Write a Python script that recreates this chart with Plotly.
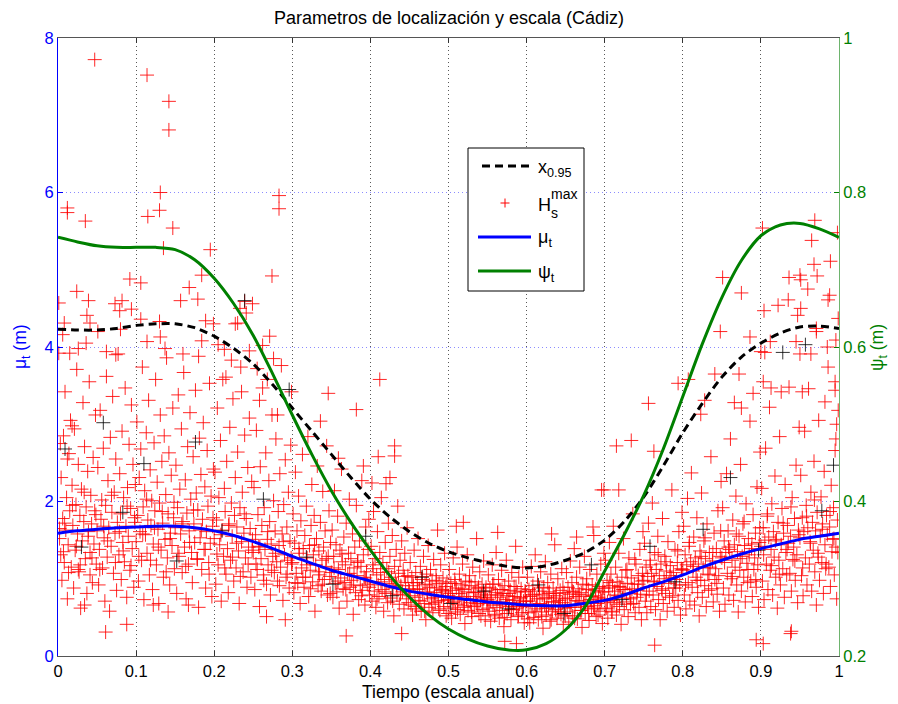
import plotly.graph_objects as go

# ---------------- data ----------------
t_curve = [0.0, 0.025, 0.05, 0.075, 0.1, 0.125, 0.15, 0.175, 0.2, 0.225, 0.25, 0.275, 0.3, 0.325,
           0.35, 0.375, 0.4, 0.425, 0.45, 0.475, 0.5, 0.525, 0.55, 0.575, 0.6, 0.625, 0.65, 0.675,
           0.7, 0.725, 0.75, 0.775, 0.8, 0.825, 0.85, 0.875, 0.9, 0.925, 0.95, 0.975, 1.0]
x095 = [4.23, 4.22, 4.22, 4.24, 4.28, 4.30, 4.30, 4.25, 4.14, 3.98, 3.78, 3.51, 3.21, 2.91,
        2.61, 2.31, 2.03, 1.80, 1.61, 1.46, 1.35, 1.27, 1.21, 1.16, 1.14, 1.17, 1.24, 1.34,
        1.50, 1.74, 2.06, 2.46, 2.89, 3.27, 3.61, 3.87, 4.05, 4.18, 4.26, 4.27, 4.24]
mu_t = [1.59, 1.62, 1.64, 1.66, 1.67, 1.68, 1.68, 1.66, 1.62, 1.56, 1.48, 1.39, 1.29, 1.20,
        1.11, 1.04, 0.97, 0.90, 0.84, 0.80, 0.76, 0.73, 0.70, 0.68, 0.66, 0.65, 0.65, 0.68,
        0.72, 0.79, 0.88, 0.96, 1.05, 1.15, 1.24, 1.32, 1.39, 1.45, 1.51, 1.55, 1.59]
psi_t = [0.742, 0.736, 0.731, 0.729, 0.729, 0.729, 0.726, 0.713, 0.689, 0.656, 0.615, 0.565, 0.512, 0.461,
         0.414, 0.373, 0.337, 0.304, 0.276, 0.253, 0.235, 0.222, 0.213, 0.208, 0.208, 0.216, 0.234, 0.264,
         0.310, 0.357, 0.408, 0.468, 0.536, 0.604, 0.664, 0.712, 0.744, 0.758, 0.760, 0.753, 0.742]

hs_ene_mar = [
[0.002,1.52],[0.004,2.31],[0.005,0.98],[0.006,1.78],[0.007,2.85],[0.008,1.21],[0.009,3.42],[0.010,1.63],[0.011,2.05],[0.012,0.74],
[0.013,1.44],[0.014,2.62],[0.015,1.88],[0.016,3.05],[0.017,1.15],[0.018,2.21],[0.019,1.69],[0.020,0.88],[0.021,2.94],[0.022,1.37],
[0.023,1.96],[0.024,3.71],[0.025,1.58],[0.026,2.48],[0.027,1.09],[0.028,1.82],[0.029,0.62],[0.030,2.16],[0.031,1.49],[0.032,3.28],
[0.033,1.74],[0.034,2.71],[0.035,1.26],[0.036,1.93],[0.037,0.81],[0.038,2.39],[0.039,1.61],[0.040,3.55],[0.041,1.34],[0.042,2.08],
[0.043,1.71],[0.044,0.95],[0.045,2.57],[0.046,1.45],[0.047,1.88],[0.048,3.12],[0.049,1.19],[0.003,2.75],[0.012,2.55],[0.018,2.98],
[0.026,1.12],[0.034,0.66],[0.041,1.05],[0.002,1.65],[0.007,1.35],
[0.050,1.62],[0.051,2.44],[0.052,0.92],[0.053,1.38],[0.054,3.18],[0.055,1.77],[0.056,2.02],[0.057,1.14],[0.058,2.69],[0.059,1.53],
[0.060,0.71],[0.061,1.95],[0.062,3.62],[0.063,1.28],[0.064,2.27],[0.065,1.66],[0.066,0.58],[0.067,2.83],[0.068,1.42],[0.069,1.86],
[0.070,3.36],[0.071,1.07],[0.072,2.12],[0.073,1.59],[0.074,2.55],[0.075,0.85],[0.076,1.73],[0.077,3.91],[0.078,1.31],[0.079,2.36],
[0.080,1.84],[0.081,0.99],[0.082,2.91],[0.083,1.47],[0.084,2.05],[0.085,1.22],[0.086,3.47],[0.087,1.68],[0.088,0.76],[0.089,2.18],
[0.090,1.55],[0.091,2.74],[0.092,1.11],[0.093,1.91],[0.094,3.25],[0.095,1.39],[0.096,2.48],[0.097,0.89],[0.098,1.79],[0.099,2.22],
[0.100,1.48],[0.101,3.03],[0.102,1.82],[0.103,0.97],[0.104,2.31],[0.105,1.61],[0.106,2.68],[0.107,1.24],[0.108,3.74],[0.109,1.93],
[0.110,0.73],[0.111,2.14],[0.112,1.57],[0.113,2.89],[0.114,1.33],[0.115,1.76],[0.116,3.31],[0.117,1.05],[0.118,2.41],[0.119,1.69],
[0.120,2.01],[0.121,0.86],[0.122,1.45],[0.123,2.76],[0.124,1.88],[0.125,3.58],[0.126,1.18],[0.127,2.25],[0.128,1.64],[0.129,0.68],
[0.130,1.98],[0.131,3.12],[0.132,1.37],[0.133,2.52],[0.134,1.72],[0.135,1.02],[0.136,2.85],[0.137,1.51],[0.138,2.09],[0.139,3.86],
[0.140,1.27],[0.141,1.84],[0.142,2.63],[0.143,0.92],[0.144,1.59],[0.145,2.34],[0.146,1.43],[0.147,3.21],[0.148,1.79],[0.149,1.13],
[0.150,1.66],[0.151,2.47],[0.152,0.81],[0.153,1.92],[0.154,3.38],[0.155,1.29],[0.156,2.16],[0.157,1.58],[0.158,2.94],[0.159,1.08],
[0.160,1.74],[0.161,3.67],[0.162,1.41],[0.163,2.28],[0.164,0.74],[0.165,1.85],[0.166,2.71],[0.167,1.19],[0.168,1.62],[0.169,3.15],
[0.170,2.03],[0.171,1.34],[0.172,0.95],[0.173,2.58],[0.174,1.71],[0.175,1.47],[0.176,3.44],[0.177,2.11],[0.178,1.26],[0.179,1.89],
[0.180,0.63],[0.181,2.82],[0.182,1.53],[0.183,2.35],[0.184,1.12],[0.185,1.77],[0.186,3.02],[0.187,1.38],[0.188,2.19],[0.189,0.88],
[0.190,1.61],[0.191,2.66],[0.192,1.94],[0.193,1.21],[0.194,3.53],[0.195,1.46],[0.196,2.07],[0.197,0.77],[0.198,1.68],[0.199,2.42],
[0.200,1.52],[0.201,2.38],[0.202,0.93],[0.203,1.76],[0.204,3.21],[0.205,1.18],[0.206,2.05],[0.207,1.44],[0.208,2.79],[0.209,0.71],
[0.210,1.63],[0.211,3.58],[0.212,1.29],[0.213,2.17],[0.214,1.87],[0.215,1.06],[0.216,2.52],[0.217,1.39],[0.218,0.82],[0.219,1.71],
[0.220,2.96],[0.221,1.24],[0.222,1.98],[0.223,1.55],[0.224,3.33],[0.225,0.97],[0.226,1.82],[0.227,2.31],[0.228,1.14],[0.229,1.67],
[0.230,2.64],[0.231,1.36],[0.232,0.68],[0.233,1.92],[0.234,3.74],[0.235,1.48],[0.236,2.12],[0.237,1.09],[0.238,1.59],[0.239,2.86],
[0.240,1.27],[0.241,1.78],[0.242,0.89],[0.243,2.44],[0.244,1.41],[0.245,3.08],[0.246,1.65],[0.247,1.02],[0.248,2.26],[0.249,1.51],
]

hs_abr_jun = [
[0.250,1.34],[0.251,2.18],[0.252,0.86],[0.253,1.57],[0.254,2.92],[0.255,1.12],[0.256,1.83],[0.257,1.41],[0.258,0.64],[0.259,2.45],
[0.260,1.26],[0.261,1.69],[0.262,3.47],[0.263,1.05],[0.264,1.92],[0.265,1.38],[0.266,2.63],[0.267,0.93],[0.268,1.51],[0.269,1.18],
[0.270,2.27],[0.271,1.74],[0.272,0.79],[0.273,1.45],[0.274,3.12],[0.275,1.29],[0.276,2.01],[0.277,1.08],[0.278,1.62],[0.279,2.81],
[0.280,1.22],[0.281,0.97],[0.282,1.87],[0.283,1.43],[0.284,2.36],[0.285,1.15],[0.286,3.76],[0.287,1.58],[0.288,0.72],[0.289,1.96],
[0.290,1.31],[0.291,2.54],[0.292,1.02],[0.293,1.67],[0.294,1.24],[0.295,2.12],[0.296,0.88],[0.297,1.49],[0.298,2.73],[0.299,1.19],
[0.300,1.21],[0.301,1.84],[0.302,0.82],[0.303,1.46],[0.304,2.38],[0.305,1.07],[0.306,1.62],[0.307,0.94],[0.308,2.07],[0.309,1.33],
[0.310,0.68],[0.311,1.75],[0.312,1.14],[0.313,2.61],[0.314,1.39],[0.315,0.89],[0.316,1.56],[0.317,1.02],[0.318,1.94],[0.319,1.27],
[0.320,2.84],[0.321,0.77],[0.322,1.43],[0.323,1.11],[0.324,1.69],[0.325,2.22],[0.326,0.96],[0.327,1.31],[0.328,1.82],[0.329,0.58],
[0.330,1.18],[0.331,1.52],[0.332,2.46],[0.333,0.91],[0.334,1.36],[0.335,1.05],[0.336,1.73],[0.337,0.84],[0.338,1.24],[0.339,2.13],
[0.340,1.41],[0.341,0.99],[0.342,1.62],[0.343,1.16],[0.344,2.72],[0.345,0.79],[0.346,1.29],[0.347,1.88],[0.348,1.03],[0.349,1.47],
[0.350,1.08],[0.351,1.63],[0.352,0.76],[0.353,1.29],[0.354,2.14],[0.355,0.94],[0.356,1.44],[0.357,0.83],[0.358,1.81],[0.359,1.12],
[0.360,0.62],[0.361,1.37],[0.362,1.01],[0.363,2.42],[0.364,1.22],[0.365,0.87],[0.366,1.54],[0.367,0.95],[0.368,1.18],[0.369,1.72],
[0.370,0.71],[0.371,1.06],[0.372,1.33],[0.373,2.03],[0.374,0.89],[0.375,1.26],[0.376,0.98],[0.377,1.58],[0.378,0.54],[0.379,1.14],
[0.380,1.41],[0.381,0.82],[0.382,1.95],[0.383,1.04],[0.384,1.23],[0.385,0.73],[0.386,1.49],[0.387,0.91],[0.388,1.16],[0.389,2.27],
[0.390,0.85],[0.391,1.31],[0.392,1.02],[0.393,0.66],[0.394,1.67],[0.395,1.09],[0.396,0.93],[0.397,1.38],[0.398,1.77],[0.399,0.79],
[0.400,0.96],[0.401,1.42],[0.402,0.71],[0.403,1.18],[0.404,1.87],[0.405,0.84],[0.406,1.26],[0.407,0.63],[0.408,1.05],[0.409,1.61],
[0.410,0.92],[0.411,0.77],[0.412,1.34],[0.413,1.08],[0.414,2.05],[0.415,0.86],[0.416,1.21],[0.417,0.58],[0.418,0.99],[0.419,1.47],
[0.420,0.81],[0.421,1.13],[0.422,0.69],[0.423,1.72],[0.424,0.94],[0.425,1.29],[0.426,0.75],[0.427,1.02],[0.428,1.56],[0.429,0.88],
[0.430,0.52],[0.431,1.16],[0.432,0.97],[0.433,1.38],[0.434,0.79],[0.435,1.94],[0.436,1.07],[0.437,0.67],[0.438,1.24],[0.439,0.91],
[0.440,1.49],[0.441,0.83],[0.442,1.11],[0.443,0.61],[0.444,1.33],[0.445,0.95],[0.446,0.74],[0.447,1.66],[0.448,1.04],[0.449,0.87],
[0.450,0.84],[0.451,1.21],[0.452,0.66],[0.453,1.02],[0.454,0.53],[0.455,0.91],[0.456,1.37],[0.457,0.76],[0.458,1.08],[0.459,0.61],
[0.460,0.95],[0.461,1.52],[0.462,0.72],[0.463,0.87],[0.464,1.16],[0.465,0.58],[0.466,0.99],[0.467,0.81],[0.468,1.29],[0.469,0.68],
[0.470,0.93],[0.471,0.47],[0.472,1.06],[0.473,0.79],[0.474,1.43],[0.475,0.63],[0.476,0.89],[0.477,1.12],[0.478,0.74],[0.479,0.97],
[0.480,0.56],[0.481,1.25],[0.482,0.82],[0.483,0.69],[0.484,1.04],[0.485,0.88],[0.486,1.63],[0.487,0.71],[0.488,0.94],[0.489,0.59],
[0.490,1.18],[0.491,0.77],[0.492,0.86],[0.493,1.01],[0.494,0.64],[0.495,1.33],[0.496,0.83],[0.497,0.52],[0.498,0.96],[0.499,0.73],
]

hs_jul_sep = [
[0.500,0.78],[0.501,1.12],[0.502,0.62],[0.503,0.94],[0.504,0.49],[0.505,0.85],[0.506,1.27],[0.507,0.71],[0.508,0.99],[0.509,0.57],
[0.510,0.88],[0.511,1.41],[0.512,0.67],[0.513,0.81],[0.514,1.06],[0.515,0.54],[0.516,0.92],[0.517,0.75],[0.518,1.19],[0.519,0.63],
[0.520,0.86],[0.521,0.42],[0.522,0.97],[0.523,0.73],[0.524,1.31],[0.525,0.59],[0.526,0.83],[0.527,1.04],[0.528,0.69],[0.529,0.91],
[0.530,0.51],[0.531,1.15],[0.532,0.77],[0.533,0.64],[0.534,0.96],[0.535,0.82],[0.536,1.52],[0.537,0.66],[0.538,0.87],[0.539,0.55],
[0.540,1.09],[0.541,0.72],[0.542,0.79],[0.543,0.93],[0.544,0.60],[0.545,1.23],[0.546,0.76],[0.547,0.47],[0.548,0.89],[0.549,0.68],
[0.550,0.73],[0.551,1.05],[0.552,0.58],[0.553,0.88],[0.554,0.45],[0.555,0.79],[0.556,1.18],[0.557,0.66],[0.558,0.93],[0.559,0.52],
[0.560,0.82],[0.561,1.34],[0.562,0.63],[0.563,0.76],[0.564,0.99],[0.565,0.49],[0.566,0.86],[0.567,0.70],[0.568,1.11],[0.569,0.59],
[0.570,0.81],[0.571,0.38],[0.572,0.91],[0.573,0.68],[0.574,1.24],[0.575,0.55],[0.576,0.78],[0.577,0.97],[0.578,0.64],[0.579,0.85],
[0.580,0.47],[0.581,1.08],[0.582,0.72],[0.583,0.60],[0.584,0.90],[0.585,0.77],[0.586,1.42],[0.587,0.62],[0.588,0.83],[0.589,0.51],
[0.590,1.02],[0.591,0.67],[0.592,0.74],[0.593,0.87],[0.594,0.56],[0.595,1.15],[0.596,0.71],[0.597,0.43],[0.598,0.84],[0.599,0.64],
[0.600,0.71],[0.601,1.02],[0.602,0.56],[0.603,0.86],[0.604,0.43],[0.605,0.77],[0.606,1.16],[0.607,0.64],[0.608,0.91],[0.609,0.50],
[0.610,0.80],[0.611,1.31],[0.612,0.61],[0.613,0.74],[0.614,0.97],[0.615,0.47],[0.616,0.84],[0.617,0.68],[0.618,1.09],[0.619,0.57],
[0.620,0.79],[0.621,0.36],[0.622,0.89],[0.623,0.66],[0.624,1.22],[0.625,0.53],[0.626,0.76],[0.627,0.95],[0.628,0.62],[0.629,0.83],
[0.630,0.45],[0.631,1.06],[0.632,0.70],[0.633,0.58],[0.634,0.88],[0.635,0.75],[0.636,1.44],[0.637,0.60],[0.638,0.81],[0.639,0.49],
[0.640,1.00],[0.641,0.65],[0.642,0.72],[0.643,0.85],[0.644,0.54],[0.645,1.13],[0.646,0.69],[0.647,0.41],[0.648,0.82],[0.649,0.62],
[0.650,0.74],[0.651,1.08],[0.652,0.57],[0.653,0.89],[0.654,0.44],[0.655,0.80],[0.656,1.23],[0.657,0.66],[0.658,0.95],[0.659,0.52],
[0.660,0.83],[0.661,1.39],[0.662,0.63],[0.663,0.77],[0.664,1.02],[0.665,0.48],[0.666,0.87],[0.667,0.71],[0.668,1.15],[0.669,0.59],
[0.670,0.82],[0.671,0.37],[0.672,0.93],[0.673,0.69],[0.674,1.29],[0.675,0.55],[0.676,0.79],[0.677,1.00],[0.678,0.64],[0.679,0.86],
[0.680,0.46],[0.681,1.12],[0.682,0.73],[0.683,0.61],[0.684,0.92],[0.685,0.78],[0.686,1.56],[0.687,0.62],[0.688,0.85],[0.689,0.51],
[0.690,1.06],[0.691,0.68],[0.692,0.76],[0.693,0.90],[0.694,0.58],[0.695,1.19],[0.696,0.72],[0.697,0.42],[0.698,0.88],[0.699,1.33],
[0.700,0.83],[0.701,1.24],[0.702,0.62],[0.703,0.98],[0.704,0.49],[0.705,0.88],[0.706,1.47],[0.707,0.72],[0.708,1.06],[0.709,0.57],
[0.710,0.91],[0.711,1.68],[0.712,0.69],[0.713,0.84],[0.714,1.15],[0.715,0.53],[0.716,0.96],[0.717,0.78],[0.718,1.33],[0.719,0.64],
[0.720,0.89],[0.721,0.41],[0.722,1.02],[0.723,0.75],[0.724,1.52],[0.725,0.60],[0.726,0.86],[0.727,1.11],[0.728,0.70],[0.729,0.94],
[0.730,0.51],[0.731,1.27],[0.732,0.81],[0.733,0.67],[0.734,1.01],[0.735,0.87],[0.736,1.84],[0.737,0.68],[0.738,0.93],[0.739,0.56],
[0.740,1.19],[0.741,0.76],[0.742,0.85],[0.743,1.04],[0.744,0.63],[0.745,1.38],[0.746,0.80],[0.747,0.47],[0.748,0.97],[0.749,1.61],
]

hs_oct_dic = [
[0.750,0.98],[0.751,1.46],[0.752,0.71],[0.753,1.15],[0.754,0.56],[0.755,1.03],[0.756,1.72],[0.757,0.84],[0.758,1.24],[0.759,0.64],
[0.760,1.07],[0.761,1.98],[0.762,0.79],[0.763,0.97],[0.764,1.34],[0.765,0.60],[0.766,1.12],[0.767,0.90],[0.768,1.55],[0.769,0.73],
[0.770,1.04],[0.771,0.47],[0.772,1.19],[0.773,0.87],[0.774,1.78],[0.775,0.68],[0.776,1.00],[0.777,1.29],[0.778,0.81],[0.779,1.10],
[0.780,0.58],[0.781,1.48],[0.782,0.94],[0.783,0.76],[0.784,1.17],[0.785,1.01],[0.786,2.15],[0.787,0.78],[0.788,1.08],[0.789,0.63],
[0.790,1.38],[0.791,0.88],[0.792,0.99],[0.793,1.21],[0.794,0.72],[0.795,1.61],[0.796,0.92],[0.797,0.53],[0.798,1.13],[0.799,1.86],
[0.800,1.12],[0.801,1.68],[0.802,0.79],[0.803,1.31],[0.804,0.61],[0.805,1.18],[0.806,2.04],[0.807,0.95],[0.808,1.42],[0.809,0.71],
[0.810,1.22],[0.811,2.37],[0.812,0.89],[0.813,1.10],[0.814,1.54],[0.815,0.66],[0.816,1.27],[0.817,1.02],[0.818,1.79],[0.819,0.82],
[0.820,1.19],[0.821,0.52],[0.822,1.36],[0.823,0.98],[0.824,2.11],[0.825,0.76],[0.826,1.14],[0.827,1.49],[0.828,0.91],[0.829,1.26],
[0.830,0.64],[0.831,1.71],[0.832,1.06],[0.833,0.85],[0.834,1.34],[0.835,1.15],[0.836,2.58],[0.837,0.87],[0.838,1.23],[0.839,0.70],
[0.840,1.59],[0.841,0.99],[0.842,1.13],[0.843,1.39],[0.844,0.80],[0.845,1.88],[0.846,1.04],[0.847,0.58],[0.848,1.29],[0.849,2.26],
[0.850,1.27],[0.851,1.92],[0.852,0.88],[0.853,1.49],[0.854,0.67],[0.855,1.34],[0.856,2.36],[0.857,1.07],[0.858,1.62],[0.859,0.79],
[0.860,1.38],[0.861,2.81],[0.862,1.00],[0.863,1.24],[0.864,1.76],[0.865,0.72],[0.866,1.44],[0.867,1.15],[0.868,2.07],[0.869,0.92],
[0.870,1.35],[0.871,0.57],[0.872,1.55],[0.873,1.11],[0.874,2.48],[0.875,0.84],[0.876,1.29],[0.877,1.71],[0.878,1.02],[0.879,1.43],
[0.880,0.70],[0.881,1.97],[0.882,1.20],[0.883,0.95],[0.884,1.52],[0.885,1.31],[0.886,3.04],[0.887,0.97],[0.888,1.39],[0.889,0.77],
[0.890,1.83],[0.891,1.12],[0.892,1.27],[0.893,1.59],[0.894,0.89],[0.895,2.19],[0.896,1.18],[0.897,0.63],[0.898,1.47],[0.899,2.64],
[0.900,1.42],[0.901,2.17],[0.902,0.97],[0.903,1.66],[0.904,0.73],[0.905,1.50],[0.906,2.69],[0.907,1.19],[0.908,1.81],[0.909,0.86],
[0.910,1.54],[0.911,3.22],[0.912,1.11],[0.913,1.38],[0.914,1.97],[0.915,0.79],[0.916,1.61],[0.917,1.28],[0.918,2.33],[0.919,1.02],
[0.920,1.51],[0.921,0.62],[0.922,1.73],[0.923,1.24],[0.924,2.84],[0.925,0.92],[0.926,1.44],[0.927,1.91],[0.928,1.13],[0.929,1.59],
[0.930,0.76],[0.931,2.22],[0.932,1.34],[0.933,1.05],[0.934,1.69],[0.935,1.46],[0.936,3.48],[0.937,1.07],[0.938,1.55],[0.939,0.84],
[0.940,2.05],[0.941,1.25],[0.942,1.41],[0.943,1.78],[0.944,0.98],[0.945,2.47],[0.946,1.31],[0.947,0.69],[0.948,1.63],[0.949,2.96],
[0.950,1.53],[0.951,2.34],[0.952,1.04],[0.953,1.79],[0.954,0.78],[0.955,1.61],[0.956,2.91],[0.957,1.27],[0.958,1.95],[0.959,0.92],
[0.960,1.66],[0.961,3.46],[0.962,1.19],[0.963,1.48],[0.964,2.12],[0.965,0.84],[0.966,1.73],[0.967,1.37],[0.968,2.52],[0.969,1.09],
[0.970,1.62],[0.971,0.66],[0.972,1.86],[0.973,1.33],[0.974,3.05],[0.975,0.98],[0.976,1.55],[0.977,2.06],[0.978,1.21],[0.979,1.71],
[0.980,0.81],[0.981,2.39],[0.982,1.44],[0.983,1.13],[0.984,1.82],[0.985,1.57],[0.986,3.74],[0.987,1.15],[0.988,1.67],[0.989,0.90],
[0.990,2.21],[0.991,1.35],[0.992,1.51],[0.993,1.92],[0.994,1.05],[0.995,2.66],[0.996,1.41],[0.997,0.74],[0.998,1.76],[0.999,3.18],
]

hs_denso = [
[0.0035,1.31],[0.0085,1.72],[0.0135,1.08],[0.0185,1.95],[0.0235,1.42],[0.0285,1.18],[0.0335,2.12],[0.0385,1.55],[0.0435,1.27],[0.0485,1.83],
[0.0535,1.12],[0.0585,1.68],[0.0635,1.49],[0.0685,2.08],[0.0735,1.21],[0.0785,1.61],[0.0835,1.36],[0.0885,1.94],[0.0935,1.17],[0.0985,1.73],
[0.1035,1.29],[0.1085,1.58],[0.1135,2.03],[0.1185,1.24],[0.1235,1.66],[0.1285,1.41],[0.1335,1.87],[0.1385,1.09],[0.1435,1.52],[0.1485,1.99],
[0.1535,1.33],[0.1585,1.71],[0.1635,1.16],[0.1685,1.47],[0.1735,1.89],[0.1785,1.25],[0.1835,1.63],[0.1885,1.38],[0.1935,1.06],[0.1985,1.79],
[0.2035,1.32],[0.2085,1.57],[0.2135,1.14],[0.2185,1.69],[0.2235,1.28],[0.2285,1.46],[0.2335,1.03],[0.2385,1.84],[0.2435,1.19],[0.2485,1.37],
[0.2535,1.19],[0.2585,1.42],[0.2635,0.98],[0.2685,1.61],[0.2735,1.11],[0.2785,1.33],[0.2835,0.91],[0.2885,1.48],[0.2935,1.06],[0.2985,1.27],
[0.3035,0.95],[0.3085,1.39],[0.3135,1.02],[0.3185,1.18],[0.3235,0.87],[0.3285,1.44],[0.3335,1.09],[0.3385,0.93],[0.3435,1.26],[0.3485,0.81],
[0.3535,1.14],[0.3585,0.97],[0.3635,1.32],[0.3685,0.86],[0.3735,1.07],[0.3785,0.92],[0.3835,1.21],[0.3885,0.78],[0.3935,1.01],[0.3985,0.89],
[0.4035,1.13],[0.4085,0.74],[0.4135,0.96],[0.4185,0.83],[0.4235,1.09],[0.4285,0.71],[0.4335,0.92],[0.4385,0.80],[0.4435,1.03],[0.4485,0.69],
[0.4515,0.78],[0.4545,0.95],[0.4575,0.64],[0.4605,0.86],[0.4635,0.71],[0.4665,1.03],[0.4695,0.58],[0.4725,0.83],[0.4755,0.92],[0.4785,0.67],
[0.4815,0.76],[0.4845,0.98],[0.4875,0.61],[0.4905,0.85],[0.4935,0.72],[0.4965,0.90],[0.4995,0.55],[0.5025,0.81],[0.5055,0.69],[0.5085,0.94],
[0.5115,0.60],[0.5145,0.77],[0.5175,0.87],[0.5205,0.65],[0.5235,0.74],[0.5265,0.96],[0.5295,0.57],[0.5325,0.82],[0.5355,0.68],[0.5385,0.89],
[0.5415,0.52],[0.5445,0.75],[0.5475,0.84],[0.5505,0.62],[0.5535,0.71],[0.5565,0.93],[0.5595,0.54],[0.5625,0.79],[0.5655,0.66],[0.5685,0.86],
[0.5715,0.50],[0.5745,0.73],[0.5775,0.81],[0.5805,0.60],[0.5835,0.69],[0.5865,0.90],[0.5895,0.53],[0.5925,0.76],[0.5955,0.64],[0.5985,0.83],
[0.6015,0.48],[0.6045,0.71],[0.6075,0.79],[0.6105,0.58],[0.6135,0.67],[0.6165,0.88],[0.6195,0.51],[0.6225,0.74],[0.6255,0.62],[0.6285,0.81],
[0.6315,0.47],[0.6345,0.70],[0.6375,0.78],[0.6405,0.57],[0.6435,0.66],[0.6465,0.89],[0.6495,0.52],[0.6525,0.75],[0.6555,0.63],[0.6585,0.84],
[0.6615,0.49],[0.6645,0.72],[0.6675,0.80],[0.6705,0.59],[0.6735,0.68],[0.6765,0.92],[0.6795,0.55],[0.6825,0.77],[0.6855,0.65],[0.6885,0.87],
[0.6915,0.53],[0.6945,0.74],[0.6975,0.83],[0.7005,0.61],[0.7035,0.70],[0.7065,0.95],[0.7095,0.58],[0.7125,0.79],[0.7155,0.67],[0.7185,0.90],
[0.7235,0.86],[0.7285,1.12],[0.7335,0.74],[0.7385,1.25],[0.7435,0.93],[0.7485,1.07],[0.7535,0.79],[0.7585,1.18],[0.7635,0.96],[0.7685,1.31],
[0.7735,0.85],[0.7785,1.22],[0.7835,1.04],[0.7885,0.88],[0.7935,1.36],[0.7985,1.11],[0.8035,0.92],[0.8085,1.47],[0.8135,1.16],[0.8185,0.98],
[0.8235,1.29],[0.8285,1.53],[0.8335,1.05],[0.8385,1.34],[0.8435,0.94],[0.8485,1.62],[0.8535,1.21],[0.8585,1.41],[0.8635,1.03],[0.8685,1.58],
[0.8735,1.26],[0.8785,1.74],[0.8835,1.12],[0.8885,1.45],[0.8935,0.99],[0.8985,1.66],[0.9035,1.31],[0.9085,1.84],[0.9135,1.17],[0.9185,1.49],
[0.9235,1.06],[0.9285,1.72],[0.9335,1.38],[0.9385,1.93],[0.9435,1.23],[0.9485,1.57],[0.9535,1.14],[0.9585,1.81],[0.9635,1.46],[0.9685,2.02],
[0.9735,1.28],[0.9785,1.64],[0.9835,1.19],[0.9885,1.87],[0.9935,1.52],[0.9985,1.34],
]

hs_extremos = [
[0.047,7.72],[0.114,7.52],[0.142,7.18],[0.142,6.81],[0.131,6.00],[0.012,5.80],[0.012,5.74],[0.035,5.63],[0.115,5.69],[0.130,5.77],
[0.147,5.54],[0.135,5.28],[0.195,5.26],[0.283,5.96],[0.283,5.79],[0.184,4.93],[0.274,4.92],[0.092,4.88],[0.106,4.83],[0.168,4.77],
[0.024,4.72],[0.039,4.60],[0.157,4.60],[0.179,4.62],[0.073,4.56],[0.082,4.60],[0.079,4.47],[0.094,4.49],[0.001,4.57],[0.037,4.41],
[0.239,4.59],[0.249,4.56],[0.241,4.44],[0.233,4.50],[0.041,4.31],[0.106,4.36],[0.130,4.33],[0.008,4.31],[0.006,4.16],[0.051,4.20],
[0.080,4.23],[0.131,4.13],[0.189,4.34],[0.199,4.30],[0.227,4.30],[0.230,4.31],[0.271,4.14],[0.114,4.07],[0.184,4.08],[0.036,4.05],
[0.026,3.98],[0.137,3.98],[0.205,4.03],[0.213,3.97],[0.062,3.94],[0.074,3.90],[0.160,3.91],[0.180,3.88],[0.001,3.92],[0.015,3.92],
[0.262,4.02],[0.255,3.72],[0.268,3.58],[0.276,3.85],[0.258,3.31],[0.281,3.12],[0.245,3.95],[0.222,3.83],[0.235,3.42],[0.215,3.61],
[0.902,5.54],[0.969,5.64],[0.998,5.48],[0.965,5.38],[0.968,5.07],[0.989,5.11],[0.972,4.92],[0.851,4.90],[0.936,4.90],[0.950,4.93],
[0.951,4.87],[0.960,4.75],[0.875,4.70],[0.988,4.67],[0.986,4.61],[0.935,4.61],[0.922,4.54],[0.951,4.50],[0.904,4.47],[0.947,4.41],
[0.999,4.37],[0.848,4.20],[0.886,4.13],[0.912,4.07],[0.945,4.07],[0.971,4.20],[0.971,4.24],[0.996,4.09],[0.900,3.94],[0.905,3.93],
[0.950,3.91],[0.964,3.91],[0.985,4.00],
[0.412,3.58],[0.346,3.40],[0.382,3.19],[0.299,3.42],[0.336,3.04],[0.431,2.72],[0.431,2.59],[0.410,2.58],[0.391,2.46],[0.359,2.56],
[0.402,2.24],[0.425,2.31],[0.420,2.23],[0.369,0.26],[0.440,0.29],[0.061,0.31],[0.088,0.41],[0.122,0.66],[0.141,0.57],[0.167,0.66],
[0.267,0.51],[0.291,0.47],
[0.715,2.72],[0.734,2.79],[0.756,3.27],[0.763,2.65],[0.699,2.15],[0.718,2.15],[0.794,3.53],[0.807,3.58],[0.841,3.65],[0.872,3.65],
[0.828,3.31],[0.823,3.13],[0.866,3.28],[0.875,3.21],[0.890,3.40],[0.903,3.55],[0.913,3.47],[0.926,3.42],[0.953,3.42],[0.982,3.29],
[0.995,3.55],[0.995,3.44],[0.997,3.00],[0.996,2.81],[0.764,0.14],[0.903,0.16],[0.894,0.21],[0.587,0.16],[0.572,0.19],[0.563,1.60],
[0.519,1.73],[0.510,1.68],[0.632,1.58],[0.664,1.54],[0.685,1.67],[0.696,2.15],[0.939,0.32],[0.938,0.29],
]

hs_negros = [
[0.009,2.68],[0.030,1.41],[0.058,3.02],[0.083,1.86],[0.110,2.49],[0.152,1.23],[0.176,2.77],[0.210,1.62],[0.239,4.60],[0.263,2.03],
[0.296,3.45],[0.318,1.28],[0.352,0.93],[0.394,1.55],[0.428,0.78],[0.466,1.02],[0.503,0.68],[0.545,0.84],[0.577,0.61],[0.615,0.92],
[0.648,0.55],[0.683,1.18],[0.722,0.73],[0.758,1.42],[0.790,0.96],[0.826,1.64],[0.861,2.31],[0.897,1.37],[0.928,3.93],[0.957,4.03],
[0.978,1.88],[0.993,2.47],
]

x_ticks = [0, 0.1, 0.2, 0.3, 0.4, 0.5, 0.6, 0.7, 0.8, 0.9, 1]
y1_ticks = [0, 2, 4, 6, 8]
y2_ticks = [0.2, 0.4, 0.6, 0.8, 1]

# ---------------- figure ----------------
W, H = 898, 704
ML, MR, MT, MB = 58, 59, 38, 48
PW, PH = W - ML - MR, H - MT - MB
def px(x):
    return (x - ML) / PW
def py(y):
    return (H - MB - y) / PH

FONT = "Liberation Sans, Arial, Helvetica, sans-serif"
RED = "rgb(255,0,0)"
BLUE = "rgb(0,0,255)"
GREEN = "rgb(0,128,0)"

red_pts = hs_ene_mar + hs_abr_jun + hs_jul_sep + hs_oct_dic + hs_denso + hs_extremos

fig = go.Figure()
fig.add_trace(go.Scatter(
    x=[p[0] for p in red_pts], y=[p[1] for p in red_pts], mode="markers",
    marker=dict(symbol="cross-thin", size=10, line=dict(width=1, color="rgba(255,0,0,0.85)")),
    name="Hs max", showlegend=False))
fig.add_trace(go.Scatter(
    x=[p[0] for p in hs_negros], y=[p[1] for p in hs_negros], mode="markers",
    marker=dict(symbol="cross-thin", size=10, line=dict(width=1, color="rgba(0,0,0,0.8)")),
    showlegend=False))
fig.add_trace(go.Scatter(
    x=t_curve, y=x095, mode="lines", line=dict(color="black", width=3, dash="8px,5px", shape="spline", smoothing=0.8),
    showlegend=False))
fig.add_trace(go.Scatter(
    x=t_curve, y=mu_t, mode="lines", line=dict(color=BLUE, width=3, shape="spline", smoothing=0.8),
    showlegend=False))
fig.add_trace(go.Scatter(
    x=t_curve, y=psi_t, mode="lines", line=dict(color=GREEN, width=3, shape="spline", smoothing=0.8),
    yaxis="y2", showlegend=False))

fig.update_layout(
    width=W, height=H,
    margin=dict(l=ML, r=MR, t=MT, b=MB, pad=0),
    paper_bgcolor="white", plot_bgcolor="white",
    font=dict(family=FONT, size=16, color="black"),
    showlegend=False,
    title=dict(text="Parametros de localización y escala (Cádiz)", x=0.5, xanchor="center",
               y=1 - 18 / H, yanchor="middle", font=dict(size=18, color="black")),
    xaxis=dict(range=[0, 1], tickvals=x_ticks, ticktext=[("%g" % v) for v in x_ticks],
               ticks="inside", ticklen=5, tickcolor="#333", showline=True, linecolor="#555",
               linewidth=1, mirror="ticks", showgrid=True, gridcolor="rgba(0,0,0,0.65)",
               griddash="1px,3px", gridwidth=1, zeroline=False,
               tickfont=dict(size=16.5, color="black")),
    yaxis=dict(range=[0, 8], tickvals=y1_ticks, ticks="inside", ticklen=5, tickcolor=BLUE,
               showline=True, linecolor=BLUE, linewidth=1, showgrid=True,
               gridcolor="rgba(110,110,255,0.8)", griddash="1px,3px", gridwidth=1,
               zeroline=False, tickfont=dict(size=16.5, color=BLUE)),
    yaxis2=dict(range=[0.2, 1], tickvals=y2_ticks, ticktext=[("%g" % v) for v in y2_ticks],
                overlaying="y", side="right", ticks="inside", ticklen=5, tickcolor=GREEN,
                showline=True, linecolor="rgb(110,180,110)", linewidth=1, showgrid=False,
                zeroline=False, tickfont=dict(size=16.5, color=GREEN)),
)

ann = []
# axis titles
ann.append(dict(text="Tiempo (escala anual)", x=0.5, y=py(692), xref="paper", yref="paper",
                showarrow=False, xanchor="center", yanchor="middle", font=dict(size=17.5, color="black")))
ann.append(dict(text="μ<sub>t</sub> (m)", x=px(21), y=py(347), xref="paper", yref="paper",
                showarrow=False, textangle=-90, xanchor="center", yanchor="middle",
                font=dict(size=17.5, color=BLUE)))
ann.append(dict(text="ψ<sub>t</sub> (m)", x=px(878), y=py(347), xref="paper", yref="paper",
                showarrow=False, textangle=-90, xanchor="center", yanchor="middle",
                font=dict(size=17.5, color=GREEN)))

# manual legend
shapes = []
shapes.append(dict(type="rect", xref="paper", yref="paper", x0=px(468), x1=px(584), y0=py(291), y1=py(148),
                   line=dict(color="black", width=1), fillcolor="white", layer="above"))
shapes.append(dict(type="line", xref="paper", yref="paper", x0=px(482), x1=px(531), y0=py(166), y1=py(166),
                   line=dict(color="black", width=3, dash="8px,5px"), layer="above"))
shapes.append(dict(type="line", xref="paper", yref="paper", x0=px(500.5), x1=px(509.5), y0=py(203), y1=py(203),
                   line=dict(color=RED, width=1), layer="above"))
shapes.append(dict(type="line", xref="paper", yref="paper", x0=px(505), x1=px(505), y0=py(198.5), y1=py(207.5),
                   line=dict(color=RED, width=1), layer="above"))
shapes.append(dict(type="line", xref="paper", yref="paper", x0=px(478), x1=px(531), y0=py(237), y1=py(237),
                   line=dict(color=BLUE, width=3), layer="above"))
shapes.append(dict(type="line", xref="paper", yref="paper", x0=px(478), x1=px(531), y0=py(271), y1=py(271),
                   line=dict(color=GREEN, width=3), layer="above"))

LF = dict(size=18, color="black")
ann.append(dict(text="x<sub>0.95</sub>", x=px(536), y=py(168), xref="paper", yref="paper",
                showarrow=False, xanchor="left", yanchor="middle", font=LF))
ann.append(dict(text="H", x=px(536), y=py(205), xref="paper", yref="paper",
                showarrow=False, xanchor="left", yanchor="middle", font=LF))
ann.append(dict(text="max", x=px(549), y=py(194), xref="paper", yref="paper",
                showarrow=False, xanchor="left", yanchor="middle", font=dict(size=14, color="black")))
ann.append(dict(text="s", x=px(549), y=py(213), xref="paper", yref="paper",
                showarrow=False, xanchor="left", yanchor="middle", font=dict(size=14, color="black")))
ann.append(dict(text="μ<sub>t</sub>", x=px(536), y=py(239), xref="paper", yref="paper",
                showarrow=False, xanchor="left", yanchor="middle", font=LF))
ann.append(dict(text="ψ<sub>t</sub>", x=px(536), y=py(273), xref="paper", yref="paper",
                showarrow=False, xanchor="left", yanchor="middle", font=LF))

fig.update_layout(annotations=ann, shapes=shapes)
fig.write_html("out.html")
